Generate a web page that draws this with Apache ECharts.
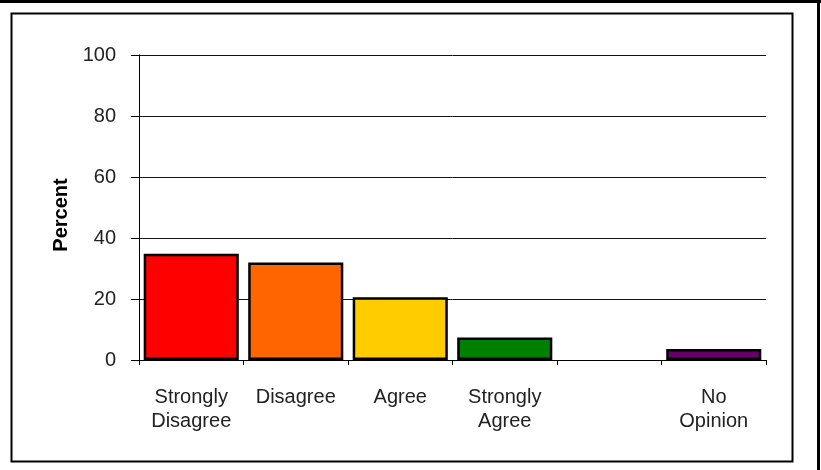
<!DOCTYPE html>
<html>
<head>
<meta charset="utf-8">
<script src="https://cdn.jsdelivr.net/npm/echarts@6/dist/echarts.min.js"></script>
<style>html,body{margin:0;padding:0;background:#fff;}#c{width:821px;height:470px;}</style>
</head>
<body>
<div id="c"></div>
<script>
var categories = ['Strongly\nDisagree', 'Disagree', 'Agree', 'Strongly\nAgree', '', 'No\nOpinion'];
var values = [34.8, 32.0, 20.6, 7.4, null, 3.6];
var barColors = ['#ff0000', '#ff6600', '#ffcc00', '#008000', '#ffffff', '#660066'];
var yTicks = [0, 20, 40, 60, 80, 100];
var yTitle = 'Percent';

var chart = echarts.init(document.getElementById('c'), null, {renderer: 'canvas'});
var font = 'Arial, "Liberation Sans", sans-serif';
chart.setOption({
  animation: false,
  backgroundColor: '#fff',
  grid: {left: 139, top: 55, right: 55, bottom: 110, containLabel: false},
  xAxis: {
    type: 'category',
    data: categories,
    axisLine: {show: true, lineStyle: {color: '#000', width: 1}},
    axisTick: {show: true, alignWithLabel: false, length: 5, lineStyle: {color: '#000'}},
    axisLabel: {color: '#222', fontFamily: font, fontSize: 20, lineHeight: 24, margin: 25, interval: 0}
  },
  yAxis: {
    type: 'value',
    min: yTicks[0], max: yTicks[yTicks.length - 1], interval: 20,
    name: yTitle, nameLocation: 'middle', nameGap: 67, nameRotate: 90,
    nameTextStyle: {color: '#000', fontFamily: font, fontSize: 20, fontWeight: 'bold', padding: [0, 0, 0, -15]},
    axisLine: {show: true, lineStyle: {color: '#000', width: 1}},
    axisTick: {show: true, length: 8, lineStyle: {color: '#000'}},
    axisLabel: {color: '#222', fontFamily: font, fontSize: 20, margin: 23},
    splitLine: {show: true, lineStyle: {color: '#111', width: 1}}
  },
  series: [{
    type: 'bar',
    barWidth: '91%',
    data: values.map(function (v, i) {
      return {value: v, itemStyle: {color: barColors[i]}};
    }),
    itemStyle: {borderColor: '#000', borderWidth: 2.5}
  }],
  graphic: [
    {type: 'rect', shape: {x: 11.5, y: 13.5, width: 781, height: 448}, style: {fill: 'none', stroke: '#000', lineWidth: 2}, silent: true},
    {type: 'rect', shape: {x: 0, y: 0, width: 821, height: 3}, style: {fill: '#000'}, silent: true},
    {type: 'rect', shape: {x: 817, y: 0, width: 3, height: 470}, style: {fill: '#000'}, silent: true}
  ]
});
</script>
</body>
</html>
